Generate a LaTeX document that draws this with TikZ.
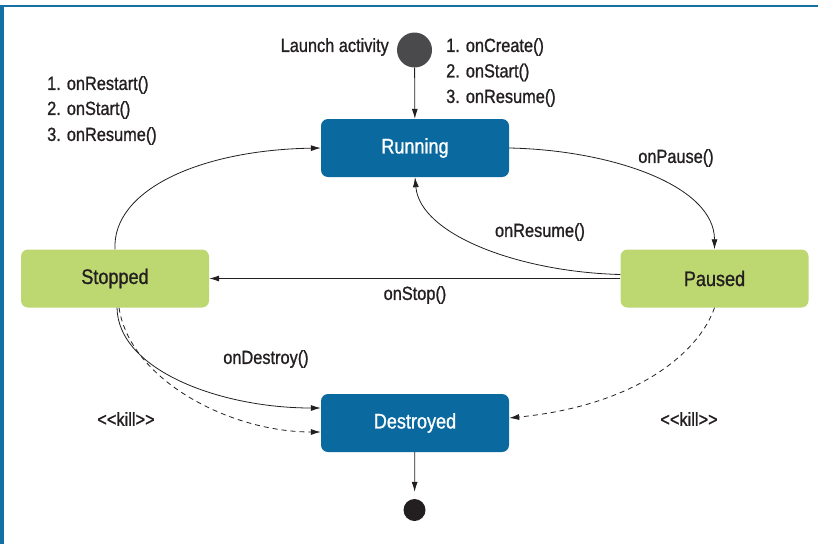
\documentclass[tikz,border=0pt]{standalone}
\usepackage{fontspec}
\setmainfont{Liberation Sans}[FakeStretch=0.86, FakeBold=1]
\usetikzlibrary{arrows.meta}
\definecolor{frameblue}{HTML}{1570A6}
\definecolor{stblue}{HTML}{0A6AA0}
\definecolor{stgreen}{HTML}{BDD771}
\definecolor{txt}{HTML}{231F20}
\definecolor{startgray}{HTML}{4A4A4C}
\begin{document}
\begin{tikzpicture}[x=1pt,y=-1pt,
  state/.style={rounded corners=7pt, minimum width=188pt, minimum height=58pt, inner sep=0pt, font=\fontsize{21}{24}\selectfont},
  bluestate/.style={state, fill=stblue, text=white},
  greenstate/.style={state, fill=stgreen, text=txt},
  lbl/.style={font=\fontsize{19}{24}\selectfont, text=txt, inner sep=0pt},
  conn/.style={draw=txt, line width=0.8pt, -{Latex[length=10pt,width=6pt]}},
  killconn/.style={conn, dash pattern=on 5pt off 4pt}]
\useasboundingbox (0,0) rectangle (818,544);
% frame
\fill[frameblue] (0,4.5) rectangle (818,7);
\fill[frameblue] (0,4.5) rectangle (3.5,544);
% states
\node[bluestate] (running) at (415,148) {Running};
\node[greenstate] (paused) at (714.5,278.5) {Paused};
\node[greenstate] (stopped) at (115,278.5) {Stopped};
\node[bluestate] (destroyed) at (415,423) {Destroyed};
\node[circle, fill=startgray, minimum size=35pt, inner sep=0pt] (start) at (414.5,50) {};
\node[circle, fill=txt, minimum size=22pt, inner sep=0pt] (finish) at (414.5,510) {};
% labels
\node[lbl, anchor=east] (launch) at (389,47) {Launch activity};
\node[lbl, anchor=west] (c1) at (446,47) {1. onCreate()};
\node[lbl, anchor=west] (c2) at (446,72.5) {2. onStart()};
\node[lbl, anchor=west] (c3) at (446,98) {3. onResume()};
\node[lbl, anchor=west] (r1) at (47,85) {1. onRestart()};
\node[lbl, anchor=west] (r2) at (47,110) {2. onStart()};
\node[lbl, anchor=west] (r3) at (47,136) {3. onResume()};
\node[lbl] (lpause) at (676,158) {onPause()};
\node[lbl] (lresume) at (540,232) {onResume()};
\node[lbl] (lstop) at (415,295) {onStop()};
\node[lbl] (ldestroy) at (266,359) {onDestroy()};
\node[lbl] (lkill1) at (126,419) {<\kern0pt<kill>\kern0pt>};
\node[lbl] (lkill2) at (689,419) {<\kern0pt<kill>\kern0pt>};
% connectors
\draw[conn] (start) -- (running);
\draw[conn] (running.east) .. controls (610,150) and (714.5,185) .. (paused.north);
\draw[conn] ([yshift=4pt]paused.west) .. controls (520,272) and (420,235) .. (running.south);
\draw[conn] (paused.west) -- (stopped.east);
\draw[conn] (stopped.north) .. controls (112,190) and (200,150) .. (running.west);
\draw[conn] ([xshift=2pt]stopped.south) .. controls (118,370) and (220,408) .. ([yshift=15pt]destroyed.west);
\draw[killconn] ([xshift=4pt]stopped.south) .. controls (130,380) and (230,432) .. ([yshift=-9pt]destroyed.west);
\draw[killconn] (paused.south) .. controls (700,350) and (640,405) .. ([yshift=5pt]destroyed.east);
\draw[conn, shorten >=7pt] (destroyed) -- (finish);
\end{tikzpicture}
\end{document}
